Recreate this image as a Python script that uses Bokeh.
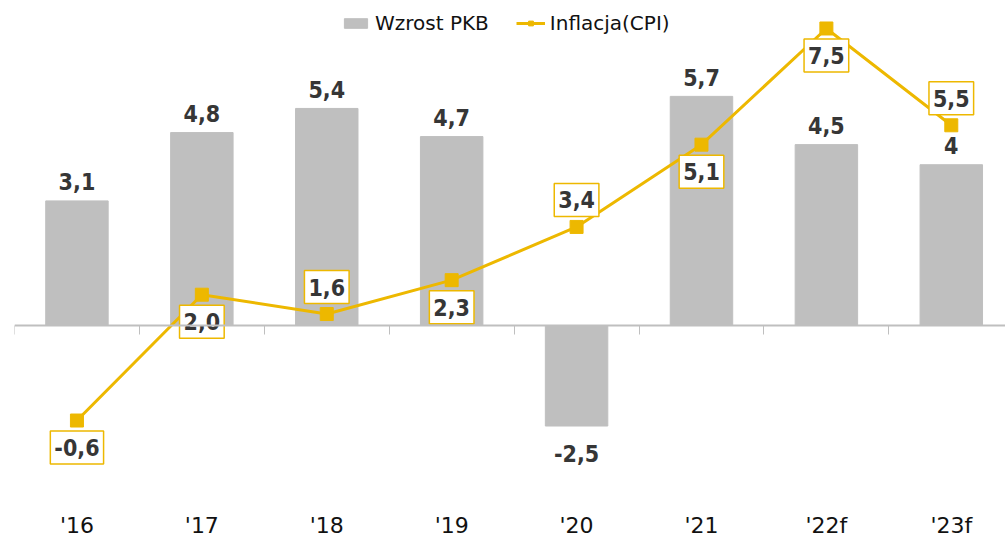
from bokeh.plotting import figure
from bokeh.models import (ColumnDataSource, Range1d, LinearAxis, FixedTicker,
                          Legend, LegendItem)
from bokeh.core.properties import value
from bokeh.embed import file_html
from bokeh.resources import INLINE

# ---- data ----
years = ["'16", "'17", "'18", "'19", "'20", "'21", "'22f", "'23f"]
gdp = [3.1, 4.8, 5.4, 4.7, -2.5, 5.7, 4.5, 4.0]
cpi = [-0.6, 2.0, 1.6, 2.3, 3.4, 5.1, 7.5, 5.5]

# ---- style ----
cpi_label_side = ["below", "below", "above", "below", "above", "below", "below", "above"]
GOLD = "#EDB800"
BAR = "#BFBFBF"
AXIS = "#BFBFBF"
TXT = "#363636"
FONT = "DejaVu Sans"
BOLD_FONT = "DejaVu Sans Condensed"

idx = list(range(len(years)))
src = ColumnDataSource(dict(
    x=idx, gdp=gdp, cpi=cpi,
    gdp_txt=[f"{v:g}".replace(".", ",") for v in gdp],
    cpi_txt=[f"{v:.1f}".replace(".", ",") for v in cpi],
    gdp_off=[-19 if v >= 0 else 27 for v in gdp],
    cpi_off=[-27 if s == "above" else 27 for s in cpi_label_side],
))

p = figure(frame_width=991, frame_height=490, output_backend="svg",
           toolbar_location=None, x_range=Range1d(-0.5, 7.434),
           y_range=Range1d(-4.303, 7.886), y_axis_location=None,
           min_border_left=14, min_border_right=0, min_border_top=8,
           min_border_bottom=0)
p.extra_y_ranges = {"cpi": Range1d(-2.211, 7.913)}
p.outline_line_color = None
p.grid.visible = False
p.background_fill_color = "white"
p.border_fill_color = "white"

# category labels axis at the bottom
xa = p.xaxis[0]
xa.ticker = FixedTicker(ticks=idx)
xa.major_label_overrides = {i: y for i, y in zip(idx, years)}
xa.axis_line_color = None
xa.major_tick_line_color = None
xa.minor_tick_line_color = None
xa.major_label_text_font = FONT
xa.major_label_text_font_size = "22px"
xa.major_label_text_color = "#111111"
xa.major_label_standoff = 8

bars = p.vbar(x="x", top="gdp", width=0.5, source=src, color=BAR)
line = p.line("x", "cpi", source=src, y_range_name="cpi", color=GOLD, line_width=3)
pts = p.scatter("x", "cpi", source=src, y_range_name="cpi", marker="square",
                size=13, color=GOLD)

p.text(x="x", y="gdp", text="gdp_txt", source=src, y_offset="gdp_off",
       text_align="center", text_baseline="alphabetic",
       text_font=value(BOLD_FONT), text_font_style="bold",
       text_font_size="23px", text_color=TXT)

p.text(x="x", y="cpi", text="cpi_txt", source=src, y_range_name="cpi",
       y_offset="cpi_off", text_align="center", text_baseline="middle",
       text_font=value(BOLD_FONT), text_font_style="bold", text_font_size="23px",
       text_color=TXT, background_fill_color="white",
       border_line_color=GOLD, border_line_width=1.5,
       padding=dict(left=4, right=4, top=8, bottom=8))

# zero line with boundary ticks
bounds = [i - 0.5 for i in range(len(years))]
zero_axis = LinearAxis(ticker=FixedTicker(ticks=bounds), fixed_location=0,
                       axis_line_color=AXIS, axis_line_width=2,
                       major_tick_in=9, major_tick_out=0,
                       major_tick_line_color=AXIS, major_tick_line_width=1,
                       minor_tick_line_color=None,
                       major_label_overrides={b: "" for b in bounds},
                       major_label_text_font_size="1px", major_label_standoff=0)
p.add_layout(zero_axis, "above")

legend = Legend(items=[LegendItem(label="Wzrost PKB", renderers=[bars]),
                       LegendItem(label="Inflacja(CPI)", renderers=[line, pts])],
                orientation="horizontal", location=(327, 463),
                glyph_width=29, glyph_height=12, label_standoff=5, spacing=27,
                padding=0, margin=0, label_text_font=FONT,
                label_text_font_size="20px", label_text_color="#111111",
                border_line_alpha=0, background_fill_alpha=0)
p.add_layout(legend)

open("out.html", "w").write(file_html(p, INLINE))
